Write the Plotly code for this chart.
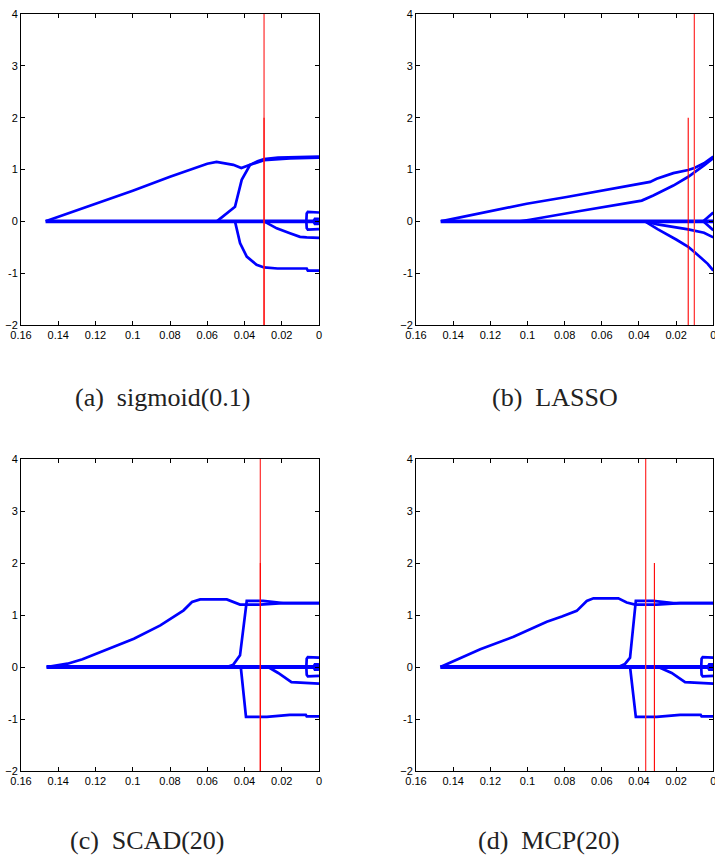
import plotly.graph_objects as go

# ---------------- data ----------------
X_TICKS = [0.16, 0.14, 0.12, 0.10, 0.08, 0.06, 0.04, 0.02, 0.0]
X_TICK_TEXT = ["0.16", "0.14", "0.12", "0.1", "0.08", "0.06", "0.04", "0.02", "0"]
Y_TICKS = [-2, -1, 0, 1, 2, 3, 4]
Y_TICK_TEXT = ["\u22122", "-1", "0", "1", "2", "3", "4"]
CAPTIONS = ["(a)  sigmoid(0.1)", "(b)  LASSO", "(c)  SCAD(20)", "(d)  MCP(20)"]

# panel (a) sigmoid(0.1)
a_zero_start = 0.1468
a1_lam = [0.1468, 0.120, 0.100, 0.080, 0.060, 0.055, 0.050, 0.046, 0.0417, 0.037, 0.033, 0.0295, 0.022, 0.010, 0.0]
a1_coef = [0.0, 0.34, 0.59, 0.86, 1.11, 1.145, 1.12, 1.09, 1.03, 1.09, 1.16, 1.20, 1.23, 1.24, 1.25]
a2_lam = [0.0549, 0.0451, 0.0415, 0.037, 0.0295, 0.0156, 0.0]
a2_coef = [0.0, 0.28, 0.80, 1.09, 1.18, 1.215, 1.23]
a3_lam = [0.0451, 0.0424, 0.0388, 0.0335, 0.0295, 0.0223, 0.0066, 0.0060, 0.0]
a3_coef = [0.0, -0.42, -0.68, -0.84, -0.89, -0.91, -0.91, -0.95, -0.95]
a4_lam = [0.0295, 0.0227, 0.0156, 0.0102, 0.0066, 0.0]
a4_coef = [0.0, -0.135, -0.23, -0.30, -0.31, -0.32]
a5_lam = [0.0068, 0.0066, 0.0060, 0.0015, 0.0005, 0.0]
a5_coef = [0.0, 0.15, 0.18, 0.18, 0.17, 0.17]
a6_lam = [0.0068, 0.0066, 0.0060, 0.0015, 0.0005, 0.0]
a6_coef = [0.0, -0.13, -0.16, -0.16, -0.15, -0.15]
a7_lam = [0.0030, 0.0022, 0.0005, 0.0]
a7_coef = [0.0, 0.05, 0.05, 0.04]
a8_lam = [0.0030, 0.0022, 0.0005, 0.0]
a8_coef = [0.0, -0.05, -0.05, -0.04]
a_red_full = 0.0295
a_red_short = 0.0295

# panel (b) LASSO
b_zero_start = 0.1467
b1_lam = [0.1467, 0.1202, 0.1004, 0.0789, 0.0574, 0.0395, 0.034, 0.0305, 0.0215, 0.0135, 0.0102, 0.005, 0.0]
b1_coef = [0.0, 0.19, 0.34, 0.47, 0.61, 0.72, 0.76, 0.82, 0.93, 0.99, 1.03, 1.12, 1.25]
b2_lam = [0.104, 0.0987, 0.0717, 0.0385, 0.0323, 0.0215, 0.0135, 0.0102, 0.005, 0.0]
b2_coef = [0.0, 0.03, 0.20, 0.40, 0.50, 0.69, 0.86, 0.94, 1.08, 1.22]
b3_lam = [0.0368, 0.030, 0.0135, 0.0102, 0.005, 0.0]
b3_coef = [0.0, -0.06, -0.155, -0.18, -0.22, -0.31]
b4_lam = [0.0368, 0.030, 0.020, 0.0135, 0.0102, 0.006, 0.003, 0.0]
b4_coef = [0.0, -0.15, -0.35, -0.49, -0.59, -0.72, -0.82, -0.95]
b5_lam = [0.0054, 0.0]
b5_coef = [0.0, 0.17]
b6_lam = [0.0054, 0.0]
b6_coef = [0.0, -0.17]
b_red_full = 0.0102
b_red_short = 0.0135

# panel (c) SCAD(20)
c_zero_start = 0.1463
c1_lam = [0.1463, 0.135, 0.127, 0.1172, 0.0994, 0.0852, 0.078, 0.0727, 0.0682, 0.0638, 0.0495, 0.046, 0.0424, 0.0317, 0.0192, 0.0]
c1_coef = [0.0, 0.064, 0.15, 0.29, 0.545, 0.80, 0.96, 1.09, 1.25, 1.30, 1.30, 1.25, 1.20, 1.20, 1.23, 1.23]
c2_lam = [0.0495, 0.046, 0.0424, 0.0388, 0.030, 0.0192, 0.0]
c2_coef = [0.0, 0.045, 0.225, 1.27, 1.27, 1.23, 1.23]
c3_lam = [0.042, 0.0392, 0.028, 0.0157, 0.0071, 0.0066, 0.0]
c3_coef = [0.0, -0.96, -0.96, -0.92, -0.92, -0.95, -0.95]
c4_lam = [0.0273, 0.0219, 0.0148, 0.0068, 0.0]
c4_coef = [0.0, -0.115, -0.29, -0.30, -0.32]
c5_lam = [0.0068, 0.0066, 0.0060, 0.0015, 0.0005, 0.0]
c5_coef = [0.0, 0.16, 0.19, 0.19, 0.18, 0.18]
c6_lam = [0.0068, 0.0066, 0.0060, 0.0015, 0.0005, 0.0]
c6_coef = [0.0, -0.15, -0.18, -0.18, -0.17, -0.17]
c7_lam = [0.0030, 0.0022, 0.0005, 0.0]
c7_coef = [0.0, 0.05, 0.05, 0.04]
c8_lam = [0.0030, 0.0022, 0.0005, 0.0]
c8_coef = [0.0, -0.05, -0.05, -0.04]
c_red_full = 0.0315
c_red_short = 0.0315

# panel (d) MCP(20)
d_zero_start = 0.1469
d1_lam = [0.1469, 0.1254, 0.1075, 0.0896, 0.0815, 0.0735, 0.0681, 0.0645, 0.0511, 0.0466, 0.0421, 0.0305, 0.0179, 0.0]
d1_coef = [0.0, 0.34, 0.58, 0.87, 0.97, 1.08, 1.27, 1.32, 1.32, 1.24, 1.20, 1.20, 1.23, 1.23]
d2_lam = [0.0511, 0.0475, 0.0448, 0.0417, 0.0323, 0.0215, 0.0]
d2_coef = [0.0, 0.06, 0.18, 1.27, 1.27, 1.23, 1.23]
d3_lam = [0.0448, 0.0417, 0.0305, 0.0179, 0.0068, 0.0063, 0.0]
d3_coef = [0.0, -0.96, -0.96, -0.92, -0.92, -0.95, -0.95]
d4_lam = [0.0296, 0.0224, 0.0152, 0.0068, 0.0]
d4_coef = [0.0, -0.115, -0.29, -0.30, -0.32]
d5_lam = [0.0065, 0.0063, 0.0057, 0.0015, 0.0005, 0.0]
d5_coef = [0.0, 0.16, 0.19, 0.19, 0.18, 0.18]
d6_lam = [0.0065, 0.0063, 0.0057, 0.0015, 0.0005, 0.0]
d6_coef = [0.0, -0.15, -0.18, -0.18, -0.17, -0.17]
d7_lam = [0.0030, 0.0022, 0.0005, 0.0]
d7_coef = [0.0, 0.05, 0.05, 0.04]
d8_lam = [0.0030, 0.0022, 0.0005, 0.0]
d8_coef = [0.0, -0.05, -0.05, -0.04]
d_red_full = 0.0364
d_red_short = 0.0317

PANELS = [
    (a_zero_start, [(a1_lam, a1_coef), (a2_lam, a2_coef), (a3_lam, a3_coef), (a4_lam, a4_coef),
                    (a5_lam, a5_coef), (a6_lam, a6_coef), (a7_lam, a7_coef), (a8_lam, a8_coef)],
     a_red_full, a_red_short),
    (b_zero_start, [(b1_lam, b1_coef), (b2_lam, b2_coef), (b3_lam, b3_coef), (b4_lam, b4_coef),
                    (b5_lam, b5_coef), (b6_lam, b6_coef)],
     b_red_full, b_red_short),
    (c_zero_start, [(c1_lam, c1_coef), (c2_lam, c2_coef), (c3_lam, c3_coef), (c4_lam, c4_coef),
                    (c5_lam, c5_coef), (c6_lam, c6_coef), (c7_lam, c7_coef), (c8_lam, c8_coef)],
     c_red_full, c_red_short),
    (d_zero_start, [(d1_lam, d1_coef), (d2_lam, d2_coef), (d3_lam, d3_coef), (d4_lam, d4_coef),
                    (d5_lam, d5_coef), (d6_lam, d6_coef), (d7_lam, d7_coef), (d8_lam, d8_coef)],
     d_red_full, d_red_short),
]

# ---------------- layout ----------------
W, H = 715, 858
X_DOMAINS = [(21, 319), (416, 713.3), (21, 319), (416, 713.3)]
Y_DOMAINS = [(14, 325), (14, 325), (459, 771), (459, 771)]
CAPTION_POS = [(162, 398), (555, 398), (147, 840), (549, 840)]


def px_x(p):
    return p / W


def px_y(p):
    return 1 - p / H


BLUE = "#0000ff"
fig = go.Figure()

for i, (zstart, curves, red_full, red_short) in enumerate(PANELS):
    n = "" if i == 0 else str(i + 1)
    xa, ya = "x" + n, "y" + n
    fig.add_trace(go.Scatter(x=[zstart, 0.0], y=[0.0, 0.0], mode="lines",
                             line=dict(color=BLUE, width=3.8), xaxis=xa, yaxis=ya,
                             hoverinfo="skip"))
    for lam, coef in curves:
        fig.add_trace(go.Scatter(x=lam, y=coef, mode="lines",
                                 line=dict(color=BLUE, width=2.7), xaxis=xa, yaxis=ya,
                                 hoverinfo="skip"))
    fig.add_trace(go.Scatter(x=[red_full, red_full], y=[-2, 4], mode="lines",
                             line=dict(color="rgb(255,60,60)", width=1.3), xaxis=xa, yaxis=ya,
                             hoverinfo="skip"))
    fig.add_trace(go.Scatter(x=[red_short, red_short], y=[-2, 2], mode="lines",
                             line=dict(color="rgb(255,0,0)", width=1.1), xaxis=xa, yaxis=ya,
                             hoverinfo="skip"))

    x0, x1 = X_DOMAINS[i]
    y0, y1 = Y_DOMAINS[i]
    axcommon = dict(showline=True, linecolor="black", linewidth=1, mirror="ticks",
                    ticks="inside", ticklen=4, tickwidth=1, tickcolor="black",
                    showgrid=False, zeroline=False, automargin=False,
                    ticklabeloverflow="allow",
                    tickfont=dict(family="Liberation Sans, Arial, sans-serif", size=11, color="black"))
    fig.layout["xaxis" + n] = dict(domain=[px_x(x0), min(1, px_x(x1))], anchor=ya,
                                   range=[0.16, 0.0],
                                   tickmode="array", tickvals=X_TICKS, ticktext=X_TICK_TEXT,
                                   **axcommon)
    fig.layout["yaxis" + n] = dict(domain=[px_y(y1), px_y(y0)], anchor=xa, range=[-2, 4],
                                   tickmode="array", tickvals=Y_TICKS, ticktext=Y_TICK_TEXT,
                                   **axcommon)
    cx, cy = CAPTION_POS[i]
    fig.add_annotation(text=CAPTIONS[i], xref="paper", yref="paper", x=px_x(cx), y=px_y(cy),
                       xanchor="center", yanchor="middle", showarrow=False,
                       font=dict(family="Liberation Serif, DejaVu Serif, serif", size=26, color="#222222"))

fig.update_layout(width=W, height=H, margin=dict(l=0, r=0, t=0, b=0, autoexpand=False),
                  showlegend=False, plot_bgcolor="white", paper_bgcolor="white")

# the page body normally has an 8px margin; remove it so the figure fills the window
fig.write_html("out.html", config={"displayModeBar": False},
               post_script="document.body.style.margin='0px';document.body.style.overflow='hidden';")
